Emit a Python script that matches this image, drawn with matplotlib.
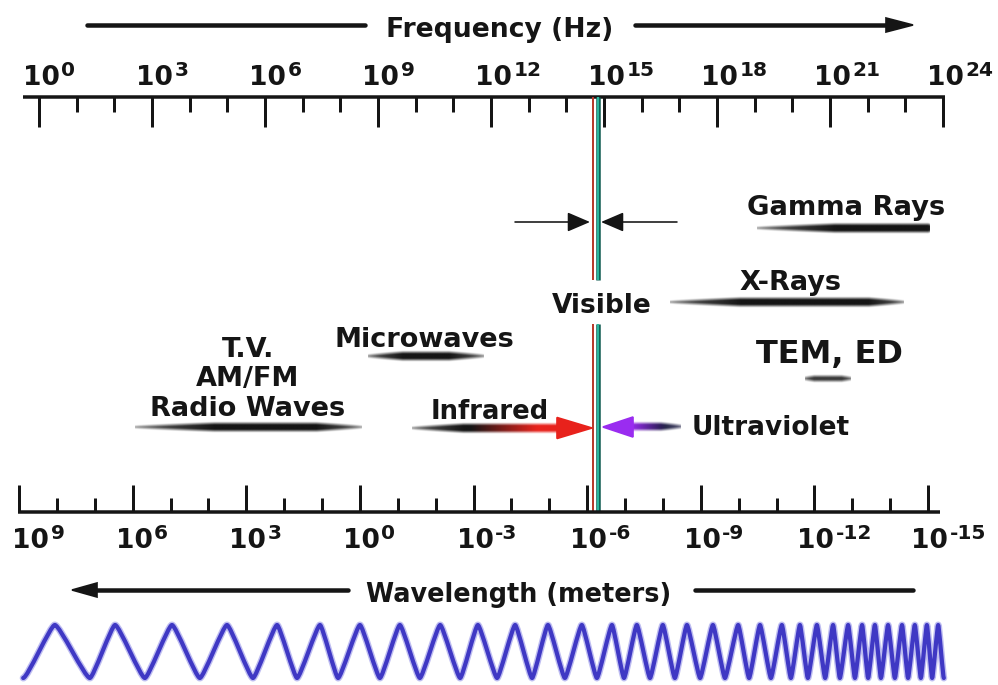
import numpy as np
import matplotlib
matplotlib.use("Agg")
import matplotlib.pyplot as plt
from matplotlib.colors import to_rgb
from matplotlib.path import Path
from matplotlib.patches import PathPatch

# ---------------- data (frequency axis in log10(Hz) decades) ----------------
freq_label_exp = [0, 3, 6, 9, 12, 15, 18, 21, 24]          # top tick labels 10^n Hz
freq_decades = list(range(0, 25))                           # every decade tick
wave_label_exp = [9, 6, 3, 0, -3, -6, -9, -12, -15]        # bottom tick labels 10^n m
wave_decades = list(range(-15, 10))

band_names = ["Radio Waves", "Microwaves", "Infrared", "Ultraviolet",
              "X-Rays", "Gamma Rays", "TEM, ED"]
band_lo = [2.55, 8.73, 9.90, 14.97, 16.75, 19.06, 20.33]    # log10 Hz
band_hi = [8.57, 11.79, 14.68, 17.02, 22.94, 23.65, 21.53]  # log10 Hz
visible_lo, visible_hi = 14.71, 14.84                      # log10 Hz

# decorative wave: extremum positions (log10 Hz units)
wave_peaks = [0.42, 2.02, 3.53, 4.99, 6.32, 7.46, 8.52, 9.58, 10.65, 11.65,
              12.64, 13.51, 14.41, 15.21, 15.87, 16.56, 17.20, 17.89, 18.56,
              19.14, 19.72, 20.20, 20.65, 21.08, 21.48, 21.85, 22.19, 22.54,
              22.91, 23.25, 23.57, 23.87]
wave_troughs = [-0.42, 1.35, 2.81, 4.27, 5.68, 6.85, 7.94, 9.05, 10.11, 11.18,
                12.16, 13.09, 13.96, 14.81, 15.53, 16.22, 16.88, 17.55, 18.21,
                18.85, 19.43, 19.96, 20.41, 20.87, 21.26, 21.66, 22.01, 22.35,
                22.72, 23.07, 23.41, 23.71, 24.02]

# ---------------- style ----------------
plt.rcParams["font.family"] = ["DejaVu Sans"]
plt.rcParams["font.weight"] = "bold"
INK = "#151515"
PT = 0.72  # points per pixel at 100 dpi

W, H = 998, 685
fig = plt.figure(figsize=(W / 100, H / 100), dpi=100)
fig.patch.set_facecolor("white")

# frequency axes: 10^0 Hz at x=39 px, 37.67 px per decade
F0, FS = 39.0, 37.67
ax = fig.add_axes([0, 0, 1, 1])
ax.set_xlim((0 - F0) / FS, (W - F0) / FS)
ax.set_ylim(H, 0)
ax.set_autoscale_on(False)
ax.axis("off")

# wavelength axes: u = -log10(lambda); 10^9 m at x=19 px, 37.875 px per decade
L0, LS = 19.0, 37.875
ax2 = fig.add_axes([0, 0, 1, 1])
ax2.set_xlim(-9 - L0 / LS, -9 + (W - L0) / LS)
ax2.set_ylim(H, 0)
ax2.set_autoscale_on(False)
ax2.axis("off")
ax2.patch.set_visible(False)


def px(x):
    return (x - F0) / FS


def brush(a, x0, x1, y, wmax, rise, fall, a0=0.15, b0=0.25, cfun=None, blur=1.6,
          fade=0.4):
    nx, ny = 500, 61
    t = np.linspace(0, 1, nx)
    r = a0 + (1 - a0) * np.clip(t / rise, 0, 1) ** 0.8
    f = b0 + (1 - b0) * np.clip((1 - t) / (1 - fall), 0, 1) ** 0.8
    prof = np.minimum(r, f)
    hw = 0.5 * wmax * prof
    hh = 0.5 * wmax + 3 * blur
    dy = np.linspace(-hh, hh, ny)
    alpha = np.clip((hw[None, :] - np.abs(dy)[:, None]) / (2 * blur) + 0.5, 0, 1)
    alpha *= (1 - fade) + fade * prof[None, :]
    if cfun is None:
        cols = np.tile(np.array(to_rgb(INK)), (nx, 1))
    else:
        cols = np.array([cfun(tt) for tt in t])
    img = np.zeros((ny, nx, 4))
    img[..., :3] = cols[None, :, :]
    img[..., 3] = alpha
    a.imshow(img, extent=(x0, x1, y + hh, y - hh), aspect="auto",
             interpolation="bilinear", zorder=2)


def head(a, tip, base, y, h, color):
    a.fill([tip, base, base], [y, y - h, y + h], color=color, ec=color, lw=1.2, zorder=3)


def pow_label(a, x, ybase, exp, off=-16):
    a.annotate("10", xy=(x, ybase), xytext=(off, 0), textcoords="offset pixels",
               ha="left", va="baseline", fontsize=19, color=INK)
    a.annotate(str(exp), xy=(x, ybase), xytext=(off + 38.5, 9), textcoords="offset pixels",
               ha="left", va="baseline", fontsize=14.5, color=INK)


# ---------------- top frequency axis ----------------
ax.plot([px(23), px(945)], [97, 97], color=INK, lw=3.5 * PT, solid_capstyle="butt")
major_f = [d for d in freq_decades if d % 3 == 0]
minor_f = [d for d in freq_decades if d % 3 != 0]
ax.vlines(major_f, 97, 127, color=INK, lw=3 * PT)
ax.vlines(minor_f, 97, 112, color=INK, lw=3 * PT)
for e in freq_label_exp:
    pow_label(ax, e, 85, e)

# frequency title with arrows
ax.text(px(500), 37, "Frequency (Hz)", ha="center", va="baseline", fontsize=19.2, color=INK)
ax.plot([px(87), px(365)], [25, 25], color=INK, lw=4.5 * PT, solid_capstyle="round")
ax.plot([px(635), px(890)], [25, 25], color=INK, lw=4.5 * PT, solid_capstyle="round")
head(ax, px(913), px(886), 25, 7, INK)

# ---------------- bottom wavelength axis ----------------
ax2.plot([-9 - 1 / LS, 15 + 12 / LS], [512, 512], color=INK, lw=3.5 * PT,
         solid_capstyle="butt")
major_w = [-d for d in wave_decades if d % 3 == 0]
minor_w = [-d for d in wave_decades if d % 3 != 0]
ax2.vlines(major_w, 485, 512, color=INK, lw=3 * PT)
ax2.vlines(minor_w, 498, 512, color=INK, lw=3 * PT)
for e in wave_label_exp:
    tick_px = ax2.transData.transform((-e, 0))[0]
    pow_label(ax2, -e, 548, e, off=max(-17, 12 - tick_px))

ax.text(px(519), 602, "Wavelength (meters)", ha="center", va="baseline",
        fontsize=18.4, color=INK)
ax.plot([px(95), px(348)], [590, 590], color=INK, lw=4.5 * PT, solid_capstyle="round")
head(ax, px(72), px(97), 590, 7, INK)
ax.plot([px(695), px(913)], [590, 590], color=INK, lw=4.5 * PT, solid_capstyle="round")

# ---------------- visible lines ----------------
for y0, y1 in [(97, 280), (324, 512)]:
    ax.vlines(visible_lo, y0, y1, color="#b83a2c", lw=2 * PT)
    ax.vlines(visible_hi, y0, y1, color="#0e5a50", lw=4.5 * PT)
    ax.vlines(visible_hi, y0, y1, color="#2cb59c", lw=2.2 * PT)
ax.text(px(602), 313, "Visible", ha="center", va="baseline", fontsize=19, color=INK)
ax.annotate("", xy=(px(590), 222), xytext=(px(515), 222),
            arrowprops=dict(arrowstyle="-|>,head_length=0.7,head_width=0.3", color=INK,
                            lw=1.6 * PT, mutation_scale=20, shrinkA=0, shrinkB=0))
ax.annotate("", xy=(px(601), 222), xytext=(px(677), 222),
            arrowprops=dict(arrowstyle="-|>,head_length=0.7,head_width=0.3", color=INK,
                            lw=1.6 * PT, mutation_scale=20, shrinkA=0, shrinkB=0))

# ---------------- bands ----------------
lo = dict(zip(band_names, band_lo))
hi = dict(zip(band_names, band_hi))

# radio
brush(ax, lo["Radio Waves"], hi["Radio Waves"], 427, 7.5, 0.35, 0.8, a0=0.1, b0=0.1)
for txt, yb in [("T.V.", 357), ("AM/FM", 386), ("Radio Waves", 416)]:
    ax.text(px(248), yb, txt, ha="center", va="baseline", fontsize=19.5, color=INK)

# microwaves
brush(ax, lo["Microwaves"], hi["Microwaves"], 356, 7.5, 0.3, 0.7, a0=0.15, b0=0.15)
ax.text(px(424), 347, "Microwaves", ha="center", va="baseline", fontsize=19.5, color=INK)

# infrared: black -> red shaft with red head
ir_base = px(557)
red = np.array(to_rgb("#e8221c"))
blk = np.array(to_rgb(INK))


def ir_col(t):
    s = np.clip((t - 0.4) / 0.45, 0, 1)
    return tuple(blk * (1 - s) + red * s)


brush(ax, lo["Infrared"], ir_base + 0.05, 428, 8, 0.35, 0.99, a0=0.1, b0=1.0, cfun=ir_col)
head(ax, hi["Infrared"], ir_base, 428, 10.5, "#e8221c")
ax.text(px(490), 419, "Infrared", ha="center", va="baseline", fontsize=18.6, color=INK)

# ultraviolet: purple head, purple -> dark shaft
uv_base = px(633)
pur = np.array(to_rgb("#9a2cf0"))
navy = np.array(to_rgb("#1a1a40"))


def uv_col(t):
    s = np.clip(t / 0.7, 0, 1)
    return tuple(pur * (1 - s) + navy * s)


brush(ax, uv_base - 0.05, hi["Ultraviolet"], 427, 7, 0.01, 0.6, a0=1.0, b0=0.3, cfun=uv_col)
head(ax, lo["Ultraviolet"], uv_base, 427, 10, "#9a2cf0")
ax.text(px(692), 435, "Ultraviolet", ha="left", va="baseline", fontsize=19, color=INK)

# x-rays
brush(ax, lo["X-Rays"], hi["X-Rays"], 302, 7.5, 0.3, 0.85, a0=0.1, b0=0.15)
ax.text(px(790), 290, "X-Rays", ha="center", va="baseline", fontsize=19.5, color=INK)

# gamma rays
brush(ax, lo["Gamma Rays"], hi["Gamma Rays"], 228, 8, 0.45, 0.99, a0=0.1, b0=0.85)
ax.text(px(846), 215, "Gamma Rays", ha="center", va="baseline", fontsize=19.7, color=INK)

# TEM, ED
brush(ax, lo["TEM, ED"], hi["TEM, ED"], 379, 5, 0.2, 0.8, a0=0.4, b0=0.4,
      cfun=lambda t: to_rgb("#3a3a3a"))
ax.text(px(829), 363, "TEM, ED", ha="center", va="baseline", fontsize=23, color=INK)

# ---------------- decorative wave (smooth curve through the extrema) ----------------
ext_x, ext_y = [], []
for i, tr in enumerate(wave_troughs):
    ext_x.append(tr)
    ext_y.append(678)
    if i < len(wave_peaks):
        ext_x.append(wave_peaks[i])
        ext_y.append(625)
verts = [(ext_x[0], ext_y[0])]
codes = [Path.MOVETO]
k = 0.14
for i in range(len(ext_x) - 1):
    dx = ext_x[i + 1] - ext_x[i]
    verts += [(ext_x[i] + k * dx, ext_y[i]), (ext_x[i + 1] - k * dx, ext_y[i + 1]),
              (ext_x[i + 1], ext_y[i + 1])]
    codes += [Path.CURVE4] * 3
wpath = Path(verts, codes)
ax.add_patch(PathPatch(wpath, fill=False, ec="#8a88e6", lw=7 * PT, alpha=0.55,
                       joinstyle="round", capstyle="round"))
ax.add_patch(PathPatch(wpath, fill=False, ec="#3f38c4", lw=4.2 * PT,
                       joinstyle="round", capstyle="round"))

fig.savefig("out.png", dpi=100, facecolor="white")
